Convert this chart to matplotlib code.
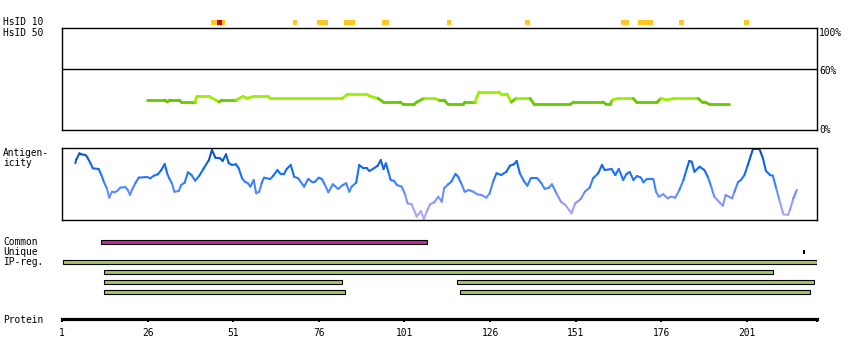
import numpy as np
import matplotlib
matplotlib.use('Agg')
import matplotlib.pyplot as plt
from matplotlib.collections import LineCollection
from matplotlib.colors import LinearSegmentedColormap, Normalize

# Protein feature overview: HsID identity, antigenicity profile, regions

W, H = 850, 360
PROTEIN_END = 221.5
TICKS = [1, 26, 51, 76, 101, 126, 151, 176, 201]

# HsID 10 hits (residue start/end, level: 1 = orange, 2 = red)
hsid10_start = [44.6, 46.3, 47.7, 68.5, 75.5, 83.4, 94.5, 113.5, 136.2, 164.3, 169.2, 181.3, 200.2]
hsid10_end = [46.3, 47.7, 48.6, 69.6, 78.7, 86.6, 96.5, 114.6, 137.7, 166.6, 173.6, 182.8, 201.7]
hsid10_level = [1, 2, 1, 1, 1, 1, 1, 1, 1, 1, 1, 1, 1]

# HsID 50 identity (%)
hsid50_pos = [25.8, 31.1, 31.7, 32.5, 35.2, 35.8, 39.8, 40.4, 43.9, 46.9, 47.7, 51.8, 53.9, 55.0,
              57.1, 61.2, 61.8, 82.8, 84.5, 89.8, 91.0, 93.3, 94.8, 99.7, 100.6, 103.8, 104.7,
              106.7, 109.7, 111.1, 112.6, 113.7, 118.1, 118.7, 121.6, 122.8, 128.6, 129.2, 131.0,
              132.2, 133.6, 137.7, 138.9, 149.4, 150.5, 159.0, 159.9, 161.1, 161.7, 163.4, 167.8,
              168.7, 174.8, 176.0, 177.7, 179.8, 186.8, 187.9, 188.8, 190.0, 195.8]
hsid50_pct = [29.4, 29.4, 27.5, 29.4, 29.4, 27.5, 27.5, 33.0, 33.0, 27.5, 29.4, 29.4, 33.0, 31.0,
              33.0, 33.0, 31.0, 31.0, 35.3, 35.3, 33.0, 31.0, 27.5, 27.5, 25.2, 25.2, 27.5,
              31.0, 31.0, 29.4, 29.4, 25.2, 25.2, 27.5, 27.5, 37.3, 37.3, 35.3, 35.3,
              27.3, 31.0, 31.0, 25.2, 25.2, 27.5, 27.5, 25.2, 25.2, 29.4, 31.0, 31.0,
              27.5, 27.5, 31.0, 29.4, 31.0, 31.0, 27.5, 27.5, 25.2, 25.2]

# Antigenicity score (0-100 of panel)
antigen_pos = [4.9, 5.1, 6.1, 6.6, 7.8, 8.3, 9.3, 10.0, 11.7, 12.5, 13.2, 14.1, 14.8, 15.6, 16.4,
               17.1, 18.0, 19.5, 20.2, 20.9, 21.4, 22.4, 23.4, 25.8, 26.8, 27.8, 29.0, 30.0, 31.0,
               31.7, 32.3, 33.1, 33.8, 35.1, 35.8, 36.8, 37.8, 38.8, 39.9, 41.1, 42.4, 43.9, 44.8,
               45.8, 47.2, 47.9, 48.9, 49.7, 50.7, 51.8, 52.6, 53.6, 54.4, 55.3, 56.0, 57.0, 57.7,
               58.6, 59.3, 60.0, 61.8, 62.7, 63.9, 64.9, 65.8, 66.6, 67.8, 68.8, 70.0, 71.7, 72.9,
               74.2, 74.9, 76.0, 76.9, 77.8, 78.8, 80.1, 81.7, 83.0, 84.0, 84.9, 85.6, 86.9, 87.8,
               89.0, 90.0, 90.8, 92.1, 93.2, 94.1, 94.9, 95.6, 96.3, 97.0, 98.0, 98.8, 100.2, 101.2,
               101.9, 103.1, 104.6, 105.8, 106.7, 107.5, 108.5, 109.7, 110.9, 111.9, 112.6, 113.8,
               114.7, 115.9, 116.7, 117.8, 118.6, 119.8, 121.1, 122.3, 123.5, 124.9, 125.9, 126.9,
               127.9, 129.3, 130.8, 131.8, 133.0, 133.8, 134.7, 136.0, 136.9, 137.9, 139.8, 141.0,
               142.0, 143.2, 144.1, 145.4, 146.7, 148.0, 149.8, 150.9, 152.5, 153.7, 155.1, 156.1,
               157.6, 158.7, 159.5, 161.5, 162.6, 163.6, 164.9, 165.8, 166.8, 167.9, 168.9, 170.1,
               170.8, 171.8, 173.7, 174.5, 175.3, 176.6, 177.9, 178.9, 180.1, 181.3, 182.5, 183.5,
               184.2, 184.9, 185.7, 187.2, 188.6, 189.6, 190.6, 191.5, 193.0, 194.0, 194.8, 196.7,
               197.4, 198.4, 199.3, 200.3, 201.3, 202.8, 204.7, 205.7, 206.6, 207.8, 208.6, 209.6,
               210.5, 211.7, 213.0, 213.6, 214.6, 215.6]
antigen_score = [78.8, 83.3, 92.6, 91.3, 90.3, 87.9, 78.8, 71.8, 70.8, 62.5, 53.2, 44.0, 31.0, 39.3, 38.5,
                 40.3, 44.9, 45.8, 41.7, 34.7, 41.7, 51.0, 58.8, 59.7, 57.9, 61.5, 63.5, 69.4, 77.8,
                 64.9, 57.9, 51.0, 39.3, 40.3, 48.6, 51.8, 66.3, 62.5, 54.6, 61.5, 71.8, 83.3, 97.2,
                 86.5, 85.7, 81.9, 91.3, 78.8, 76.4, 77.4, 71.8, 57.9, 53.2, 51.0, 46.3, 55.6, 37.1,
                 39.3, 51.0, 58.8, 56.9, 61.5, 69.4, 63.5, 63.5, 70.8, 76.4, 60.1, 57.9, 46.3, 56.9,
                 52.4, 53.2, 58.8, 56.9, 48.6, 38.5, 49.6, 43.1, 48.6, 51.0, 39.3, 46.3, 51.8, 76.4,
                 71.8, 71.8, 68.1, 71.8, 75.4, 83.3, 70.8, 78.8, 67.1, 55.6, 54.2, 48.6, 46.3, 35.7,
                 23.2, 21.8, 4.6, 12.5, 1.4, 11.5, 21.8, 24.6, 32.4, 25.4, 44.0, 49.6,
                 53.2, 63.9, 60.1, 48.6, 39.3, 41.7, 39.3, 35.7, 34.7, 31.0, 37.1, 53.2,
                 64.9, 62.5, 67.1, 75.4, 77.4, 81.9, 64.9, 53.2, 47.6, 57.9, 57.9, 51.0,
                 43.1, 44.9, 49.6, 37.1, 25.4, 20.8, 9.3, 23.2, 29.2, 39.3, 44.9, 57.9,
                 64.9, 76.4, 69.4, 70.8, 62.5, 70.8, 55.6, 63.5, 66.7, 55.6, 61.1, 58.8,
                 52.4, 56.9, 56.9, 39.3, 32.4, 35.7, 30.1, 32.4, 31.0, 41.7, 55.6, 71.8,
                 81.9, 81.0, 67.1, 74.0, 69.4, 60.1, 46.3, 32.4, 24.6, 19.9, 34.7, 30.1,
                 39.3, 52.4, 55.6, 62.5, 76.4, 98.6, 98.6, 85.7, 68.1, 62.5, 61.5, 44.0,
                 27.8, 7.9, 6.9, 13.9, 30.1, 41.7]

# Region tracks: (row, start, end)
common_start, common_end = [12.4], [107.5]
unique_pos = [217.4]
ipreg_row = [2, 3, 4, 4, 5, 5]
ipreg_start = [1.3, 13.4, 13.4, 116.5, 13.4, 117.3]
ipreg_end = [221.5, 208.6, 82.7, 220.6, 83.6, 219.4]

FONT = dict(family='DejaVu Sans Mono', fontsize=6.9, color='black')

fig = plt.figure(figsize=(W / 100, H / 100), dpi=100)


def add_px_axes(x0, y0, x1, y1):
    return fig.add_axes([x0 / W, 1 - y1 / H, (x1 - x0) / W, (y1 - y0) / H])


def px_text(x, y, s, **kw):
    fig.text(x / W, 1 - y / H, s, va='center', **FONT, **kw)


# --- HsID 10 strip
ax0 = add_px_axes(62, 20, 817, 25)
ax0.set_xlim(1, PROTEIN_END)
ax0.set_ylim(0, 1)
ax0.axis('off')
for s, e, lv in zip(hsid10_start, hsid10_end, hsid10_level):
    ax0.barh(0.5, e - s, left=s, height=1, color='#dd0000' if lv == 2 else '#ffc820', lw=0)

# --- HsID 50 panel
ax1 = add_px_axes(62, 28, 817, 130)
ax1.set_xlim(1, PROTEIN_END)
ax1.set_ylim(0, 100)
ax1.set_xticks([])
ax1.set_yticks([])
for sp in ax1.spines.values():
    sp.set_linewidth(1.0)
ax1.axhline(60, color='black', lw=1.0)
pts = np.column_stack([hsid50_pos, hsid50_pct])
segs = np.stack([pts[:-1], pts[1:]], axis=1)
mean_pct = (np.array(hsid50_pct[:-1]) + np.array(hsid50_pct[1:])) / 2
cols = ['#99f000' if m >= 30 else '#66c800' for m in mean_pct]
ax1.add_collection(LineCollection(segs, colors=cols, linewidths=2.0, capstyle='round'))

# --- Antigenicity panel
ax2 = add_px_axes(62, 148, 817, 220)
ax2.set_xlim(1, PROTEIN_END)
ax2.set_ylim(0, 100)
ax2.set_xticks([])
ax2.set_yticks([])
for sp in ax2.spines.values():
    sp.set_linewidth(1.0)
cmap = LinearSegmentedColormap.from_list('antigen', [
    (0.0, '#bdb0ff'), (0.25, '#8c96ff'), (0.45, '#4a88ff'),
    (0.65, '#1670ff'), (0.85, '#0a5ed8'), (1.0, '#004a9c')])
pts = np.column_stack([antigen_pos, antigen_score])
segs = np.stack([pts[:-1], pts[1:]], axis=1)
mean_sc = (np.array(antigen_score[:-1]) + np.array(antigen_score[1:])) / 2
lc = LineCollection(segs, cmap=cmap, norm=Normalize(0, 100), linewidths=1.5, capstyle='round')
lc.set_array(mean_sc)
ax2.add_collection(lc)

# --- Region tracks and protein ruler
ax3 = add_px_axes(62, 236, 817, 319.3)
ax3.set_xlim(1, PROTEIN_END)
ax3.set_ylim(7.73, -0.6)
for side in ['top', 'left', 'right']:
    ax3.spines[side].set_visible(False)
ax3.spines['bottom'].set_linewidth(2.3)
ax3.set_yticks([])
ax3.set_xticks(TICKS + [PROTEIN_END])
ax3.set_xticklabels([str(t) for t in TICKS] + [''], **FONT)
ax3.tick_params(axis='x', length=2.5, width=1.4, pad=4)

ax3.barh(0, common_end[0] - common_start[0], left=common_start[0], height=0.45,
         color='#c8289e', edgecolor='black', lw=0.8)
for p in unique_pos:
    ax3.barh(1, 0.5, left=p, height=0.42, color='black', lw=0)
for r, s, e in zip(ipreg_row, ipreg_start, ipreg_end):
    ax3.barh(r, e - s, left=s, height=0.45, color='#a2c85c', edgecolor='black', lw=0.8)

# --- Labels
px_text(3, 22, 'HsID 10')
px_text(3, 32.5, 'HsID 50')
px_text(3, 153.5, 'Antigen-')
px_text(3, 163.5, 'icity')
px_text(3, 242, 'Common')
px_text(3, 252, 'Unique')
px_text(3, 262, 'IP-reg.')
px_text(3, 320, 'Protein')
px_text(819, 32.5, '100%')
px_text(819, 70.5, '60%')
px_text(819, 129.5, '0%')

fig.savefig('out.png', dpi=100)
